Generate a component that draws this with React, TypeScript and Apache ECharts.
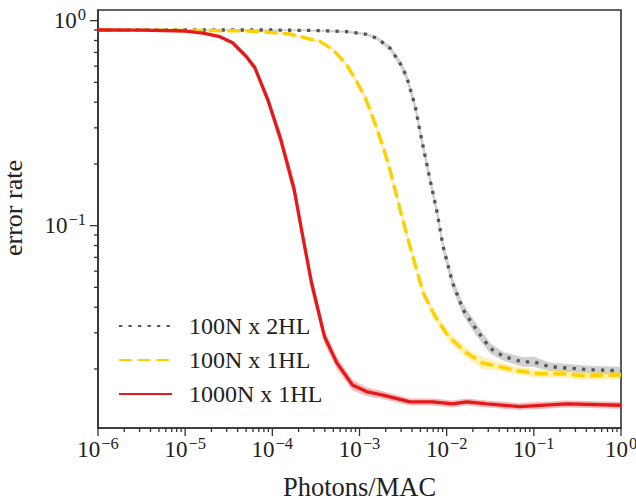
import React, { useEffect, useRef } from "react";
import * as echarts from "echarts";

const FONT = "Liberation Serif";

const seriesNames = ["100N x 2HL", "100N x 1HL", "1000N x 1HL"];

const grayX = [1e-6, 1e-5, 1e-4, 3.16e-4, 7.1e-4, 1.2e-3, 1.58e-3, 2.24e-3, 2.92e-3, 3.47e-3, 4.37e-3, 4.9e-3, 6.2e-3, 7.8e-3, 9.1e-3, 1.17e-2, 1.55e-2, 2.2e-2, 3.16e-2, 4.5e-2, 7.5e-2, 9.8e-2, 0.153, 0.24, 0.48, 1];
const grayY = [0.9, 0.9, 0.9, 0.895, 0.884, 0.858, 0.821, 0.734, 0.62, 0.533, 0.38, 0.293, 0.181, 0.115, 0.079, 0.0525, 0.0388, 0.031, 0.0252, 0.023, 0.0216, 0.0217, 0.0205, 0.0202, 0.0198, 0.0196];
const grayBand = [0.006, 0.006, 0.008, 0.01, 0.012, 0.015, 0.02, 0.03, 0.04, 0.05, 0.06, 0.07, 0.07, 0.07, 0.07, 0.07, 0.07, 0.07, 0.06, 0.05, 0.055, 0.06, 0.05, 0.045, 0.045, 0.045];

const yellowX = [1e-6, 1e-5, 5.5e-5, 1.58e-4, 3.55e-4, 5e-4, 7.1e-4, 9.3e-4, 1.15e-3, 1.43e-3, 1.86e-3, 2.24e-3, 2.92e-3, 3.8e-3, 5.4e-3, 7.4e-3, 1.05e-2, 1.7e-2, 2.63e-2, 3.7e-2, 5.75e-2, 0.107, 0.24, 0.36, 1];
const yellowY = [0.9, 0.896, 0.891, 0.861, 0.79, 0.72, 0.61, 0.504, 0.426, 0.335, 0.243, 0.187, 0.12, 0.079, 0.0468, 0.036, 0.0288, 0.0239, 0.0213, 0.0207, 0.0198, 0.019, 0.0189, 0.0185, 0.0187];
const yellowBand = [0.006, 0.006, 0.008, 0.01, 0.015, 0.02, 0.025, 0.03, 0.035, 0.04, 0.045, 0.05, 0.05, 0.05, 0.05, 0.05, 0.055, 0.06, 0.07, 0.05, 0.045, 0.045, 0.045, 0.045, 0.045];

const redX = [1e-6, 3.2e-6, 1e-5, 1.6e-5, 2.5e-5, 3.5e-5, 5e-5, 6.3e-5, 8.9e-5, 1.26e-4, 1.78e-4, 2.24e-4, 2.82e-4, 3.98e-4, 5.5e-4, 8.3e-4, 1.2e-3, 1.86e-3, 3.8e-3, 6.9e-3, 1.17e-2, 1.7e-2, 2.9e-2, 6.9e-2, 0.24, 1];
const redY = [0.9, 0.899, 0.89, 0.87, 0.835, 0.78, 0.67, 0.59, 0.41, 0.26, 0.15, 0.088, 0.0525, 0.0286, 0.0214, 0.0167, 0.0155, 0.0149, 0.0138, 0.0138, 0.0135, 0.0138, 0.0135, 0.0131, 0.0135, 0.0133];
const redBand = [0.005, 0.005, 0.006, 0.01, 0.015, 0.02, 0.03, 0.04, 0.06, 0.08, 0.1, 0.1, 0.1, 0.08, 0.07, 0.06, 0.05, 0.045, 0.04, 0.04, 0.04, 0.04, 0.04, 0.04, 0.04, 0.04];

const X_MIN = 1e-6;
const X_MAX = 1;
const Y_MIN = 0.0103;
const Y_MAX = 1.127;

const xMajorTicks = [1e-6, 1e-5, 1e-4, 1e-3, 1e-2, 1e-1, 1];
const yMajorTicks = [0.1, 1];
const minorMultipliers = [2, 3, 4, 5, 6, 7, 8, 9];
const xMinorDecades = [1e-6, 1e-5, 1e-4, 1e-3, 1e-2, 1e-1];
const yMinorDecades = [0.01, 0.1];

const AXIS_COLOR = "#333333";

function supLabel(v: number): string {
  const lg = Math.log10(v);
  const e = Math.round(lg);
  if (Math.abs(lg - e) > 1e-6) return "";
  const s = e < 0 ? "\u2212" + String(-e) : String(e);
  return "{b|10}{s|" + s + "}";
}

const richLabel = {
  b: { fontFamily: FONT, fontSize: 23, color: "#222", verticalAlign: "bottom", lineHeight: 23 },
  s: { fontFamily: FONT, fontSize: 16.5, color: "#222", verticalAlign: "bottom", lineHeight: 16.5, padding: [0, 0, 9, 1] },
};

function bandSeries(xs: number[], ys: number[], bs: number[], color: string) {
  return {
    type: "custom",
    coordinateSystem: "cartesian2d",
    silent: true,
    z: 1,
    data: [[xs[0], ys[0]]],
    renderItem: (_params: any, api: any) => {
      const upper = xs.map((x, i) => api.coord([x, ys[i] * (1 + bs[i])]));
      const lower = xs.map((x, i) => api.coord([x, ys[i] / (1 + bs[i])])).reverse();
      return {
        type: "polygon",
        shape: { points: upper.concat(lower) },
        style: { fill: color },
      };
    },
  };
}

function tickSeries(values: number[], lengths: number[], axis: "x" | "y") {
  return {
    type: "custom",
    coordinateSystem: "cartesian2d",
    silent: true,
    z: 5,
    clip: false,
    data: values.map((v, i) => (axis === "x" ? [v, Y_MIN, lengths[i]] : [X_MIN, v, lengths[i]])),
    encode: { x: 0, y: 1 },
    renderItem: (_params: any, api: any) => {
      const p = api.coord([api.value(0), api.value(1)]);
      const len = api.value(2);
      const shape =
        axis === "x"
          ? { x1: p[0], y1: p[1], x2: p[0], y2: p[1] + len }
          : { x1: p[0], y1: p[1], x2: p[0] - len, y2: p[1] };
      return { type: "line", shape, style: { stroke: AXIS_COLOR, lineWidth: 1.3 } };
    },
  };
}

export default function App() {
  const ref = useRef<HTMLDivElement>(null);
  useEffect(() => {
    if (!ref.current) return;
    const chart = echarts.init(ref.current, undefined, { renderer: "svg" });

    const xTickVals: number[] = [];
    const xTickLens: number[] = [];
    xMajorTicks.forEach((v) => { xTickVals.push(v); xTickLens.push(8); });
    xMinorDecades.forEach((d) => minorMultipliers.forEach((m) => { xTickVals.push(d * m); xTickLens.push(4); }));
    const yTickVals: number[] = [];
    const yTickLens: number[] = [];
    yMajorTicks.forEach((v) => { yTickVals.push(v); yTickLens.push(8); });
    yMinorDecades.forEach((d) => minorMultipliers.forEach((m) => {
      const v = d * m;
      if (v > Y_MIN && v < Y_MAX) { yTickVals.push(v); yTickLens.push(4); }
    }));

    const lineData = (xs: number[], ys: number[]) => xs.map((x, i) => [x, ys[i]]);

    chart.setOption({
      animation: false,
      backgroundColor: "#ffffff",
      grid: {
        left: 98, right: 15, top: 10, bottom: 72,
        show: true, borderColor: AXIS_COLOR, borderWidth: 1.6, backgroundColor: "transparent",
        outerBoundsMode: "none",
      },
      legend: {
        orient: "vertical",
        left: 113,
        top: 309,
        itemWidth: 53,
        itemHeight: 14,
        itemGap: 10,
        data: seriesNames,
        textStyle: { fontFamily: FONT, fontSize: 24, color: "#222", padding: [0, 0, 0, 12] },
        itemStyle: { opacity: 0 },
        selectedMode: false,
      },
      xAxis: {
        type: "log",
        logBase: 10,
        min: X_MIN,
        max: X_MAX,
        name: "Photons/MAC",
        nameLocation: "middle",
        nameGap: 45,
        nameTextStyle: { fontFamily: FONT, fontSize: 26.5, color: "#222" },
        axisLine: { show: true, lineStyle: { color: AXIS_COLOR, width: 1.6 } },
        axisTick: { show: false },
        minorTick: { show: false },
        splitLine: { show: false },
        axisLabel: {
          margin: 10,
          formatter: (v: number) => supLabel(v),
          rich: richLabel,
          showMinLabel: true,
          showMaxLabel: true,
        },
      },
      yAxis: {
        type: "log",
        logBase: 10,
        min: Y_MIN,
        max: Y_MAX,
        name: "error rate",
        nameLocation: "middle",
        nameGap: 72,
        nameTextStyle: { fontFamily: FONT, fontSize: 26, color: "#222", padding: [0, 0, 0, 22] },
        axisLine: { show: true, lineStyle: { color: AXIS_COLOR, width: 1.6 } },
        axisTick: { show: false },
        minorTick: { show: false },
        splitLine: { show: false },
        axisLabel: {
          margin: 12,
          formatter: (v: number) => supLabel(v),
          rich: richLabel,
        },
      },
      series: [
        bandSeries(grayX, grayY, grayBand, "rgba(150,150,150,0.45)"),
        bandSeries(yellowX, yellowY, yellowBand, "rgba(255,208,0,0.3)"),
        bandSeries(redX, redY, redBand, "rgba(227,26,28,0.3)"),
        {
          name: seriesNames[0],
          type: "line",
          data: lineData(grayX, grayY),
          symbol: "none",
          z: 3,
          lineStyle: { color: "#555555", width: 3.3, type: [3.3, 6.2], cap: "butt" },
          itemStyle: { color: "#555555" },
        },
        {
          name: seriesNames[1],
          type: "line",
          data: lineData(yellowX, yellowY),
          symbol: "none",
          z: 3,
          lineStyle: { color: "#ffd000", width: 3.5, type: [13, 5.5], cap: "butt" },
          itemStyle: { color: "#ffd000" },
        },
        {
          name: seriesNames[2],
          type: "line",
          data: lineData(redX, redY),
          symbol: "none",
          z: 3,
          lineStyle: { color: "#e31a1c", width: 3.3, type: "solid" },
          itemStyle: { color: "#e31a1c" },
        },
        tickSeries(xTickVals, xTickLens, "x"),
        tickSeries(yTickVals, yTickLens, "y"),
      ],
    });
    return () => chart.dispose();
  }, []);
  return (
    <div
      ref={ref}
      style={{ position: "fixed", left: 0, top: 0, width: 636, height: 500, background: "#fff" }}
    />
  );
}
